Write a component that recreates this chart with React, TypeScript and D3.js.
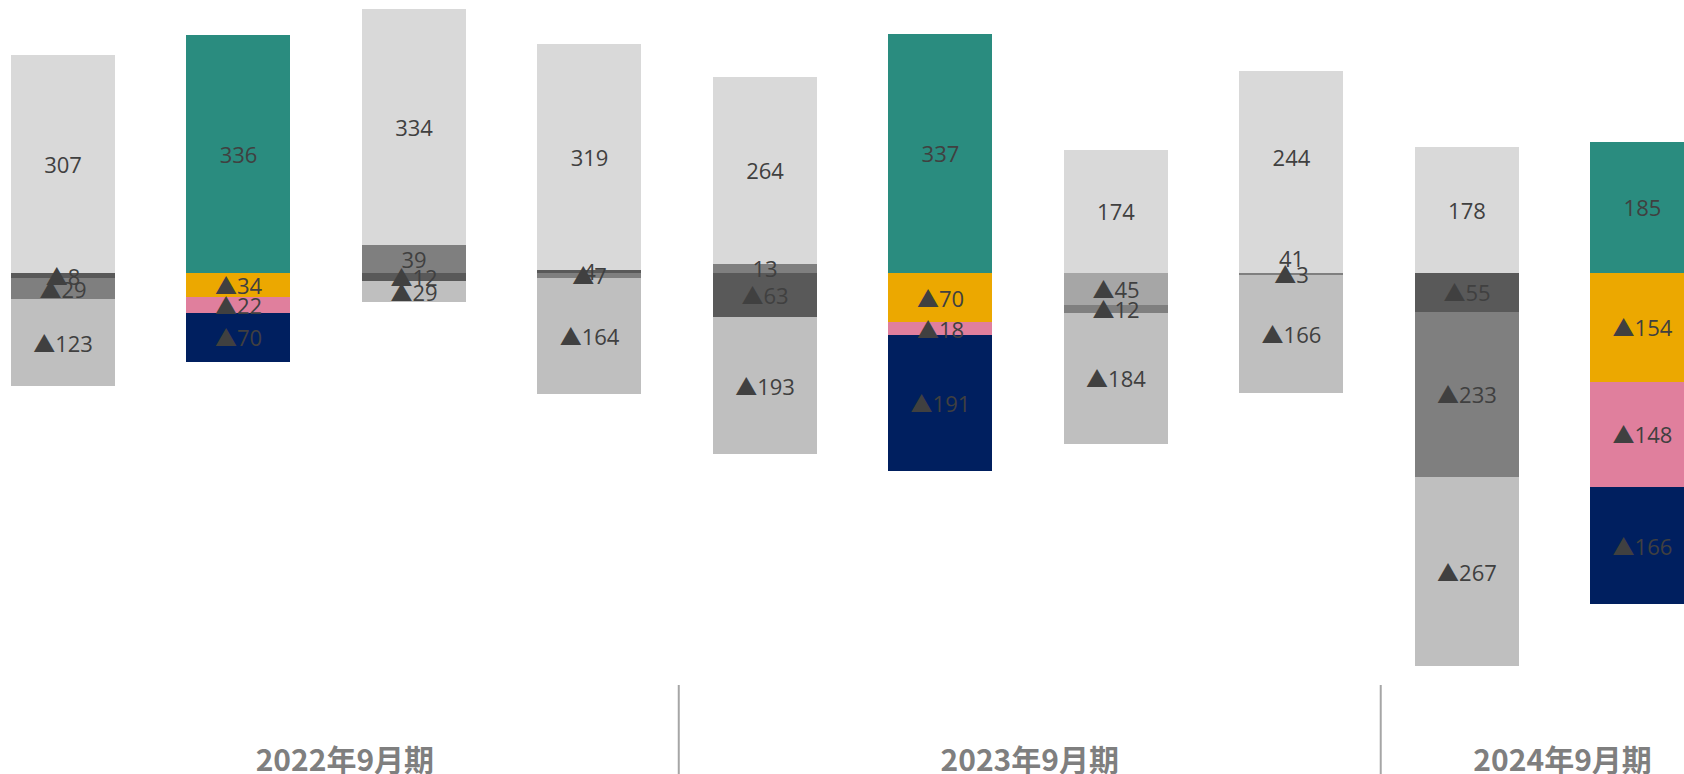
import React, { useEffect } from "react";
import * as d3 from "d3";

const W = 1684;
const H = 774;

const groups = ["2022年9月期", "2023年9月期", "2024年9月期"];
const categories = ["c1", "c2", "c3", "c4", "c5", "c6", "c7", "c8", "c9", "c10"];
const barGroup = [0, 0, 0, 0, 1, 1, 1, 1, 2, 2];

// Positive series (stacked upward from zero, in this order)
const posMid = [0, 0, 39, 0, 13, 0, 0, 0, 0, 0];
const posDark = [0, 0, 0, 4, 0, 0, 0, 0, 0, 0];
const posLight2 = [0, 0, 0, 0, 0, 0, 0, 41, 0, 0];
const posLight = [307, 0, 334, 319, 264, 0, 174, 244, 178, 0];
const posGreen = [0, 336, 0, 0, 0, 337, 0, 0, 0, 185];
// Negative series (stacked downward from zero, in this order)
const negDark = [-8, 0, -12, 0, -63, 0, 0, 0, -55, 0];
const negSilver = [0, 0, 0, 0, 0, 0, -45, 0, 0, 0];
const negMid = [-29, 0, 0, -7, 0, 0, -12, -3, -233, 0];
const negLight = [-123, 0, -29, -164, -193, 0, -184, -166, -267, 0];
const negYellow = [0, -34, 0, 0, 0, -70, 0, 0, 0, -154];
const negPink = [0, -22, 0, 0, 0, -18, 0, 0, 0, -148];
const negNavy = [0, -70, 0, 0, 0, -191, 0, 0, 0, -166];

const seriesDefs = [
  { key: "posMid", values: posMid, color: "#7f7f7f" },
  { key: "posDark", values: posDark, color: "#595959" },
  { key: "posLight2", values: posLight2, color: "#d9d9d9" },
  { key: "posLight", values: posLight, color: "#d9d9d9" },
  { key: "posGreen", values: posGreen, color: "#2a8c7f" },
  { key: "negDark", values: negDark, color: "#595959" },
  { key: "negSilver", values: negSilver, color: "#a6a6a6" },
  { key: "negMid", values: negMid, color: "#7f7f7f" },
  { key: "negLight", values: negLight, color: "#bfbfbf" },
  { key: "negYellow", values: negYellow, color: "#eca800" },
  { key: "negPink", values: negPink, color: "#e07f9d" },
  { key: "negNavy", values: negNavy, color: "#001f5f" },
];

export default function App() {
  useEffect(() => {
    document.body.style.margin = "0";
  }, []);

  const rows = categories.map((c, i) => {
    const r: any = { cat: c };
    seriesDefs.forEach((s) => (r[s.key] = s.values[i]));
    return r;
  });

  const stack = d3
    .stack<any>()
    .keys(seriesDefs.map((s) => s.key))
    .offset(d3.stackOffsetDiverging);
  const stacked = stack(rows);

  const x = d3
    .scaleBand<string>()
    .domain(categories)
    .range([11, 1694.5])
    .paddingInner(0.407)
    .paddingOuter(0);

  const y = d3.scaleLinear().domain([385, -600]).range([0, 698]);

  const bw = x.bandwidth();
  const step = x.step();
  const gap = step - bw;

  // separators between groups
  const seps: number[] = [];
  for (let i = 1; i < categories.length; i++) {
    if (barGroup[i] !== barGroup[i - 1]) {
      seps.push((x(categories[i - 1])! + bw + x(categories[i])!) / 2 + 1.5);
    }
  }
  const groupCenters = groups.map((g, gi) => {
    const idx = categories.map((_, i) => i).filter((i) => barGroup[i] === gi);
    const left = gi === 0 ? x(categories[idx[0]])! : seps[gi - 1];
    const right =
      gi < seps.length
        ? seps[gi]
        : x(categories[idx[idx.length - 1]])! + bw + gap * 0.7;
    return (left + right) / 2;
  });

  const labelFont = "'Open Sans', 'Noto Sans CJK JP', sans-serif";

  return (
    <svg
      width={W}
      height={H}
      style={{ display: "block", position: "absolute", left: 0, top: 0 }}
    >
      <rect width={W} height={H} fill="#ffffff" />
      {stacked.map((layer, si) => (
        <g key={layer.key} shapeRendering="crispEdges">
          {layer.map((d, i) => {
            const v = seriesDefs[si].values[i];
            if (v === 0) return null;
            const y0 = Math.round(y(Math.max(d[0], d[1])));
            const y1 = Math.round(y(Math.min(d[0], d[1])));
            return (
              <rect
                key={i}
                x={Math.round(x(categories[i])!)}
                y={y0}
                width={Math.round(bw)}
                height={Math.max(1, y1 - y0)}
                fill={seriesDefs[si].color}
              />
            );
          })}
        </g>
      ))}
      {stacked.map((layer, si) => (
        <g key={"l" + layer.key}>
          {layer.map((d, i) => {
            const v = seriesDefs[si].values[i];
            if (v === 0) return null;
            const cy = y((d[0] + d[1]) / 2);
            const cx = x(categories[i])! + bw / 2;
            const txt = v < 0 ? "▲" + Math.abs(v) : String(v);
            return (
              <text
                key={i}
                x={cx}
                y={cy}
                textAnchor="middle"
                dominantBaseline="central"
                fontFamily={labelFont}
                fontSize={22}
                fill="#404040"
              >
                {txt}
              </text>
            );
          })}
        </g>
      ))}
      {seps.map((sx, i) => (
        <line
          key={i}
          x1={sx}
          x2={sx}
          y1={685}
          y2={H}
          stroke="#a6a6a6"
          strokeWidth={2}
        />
      ))}
      {groups.map((g, gi) => (
        <text
          key={g}
          x={groupCenters[gi]}
          y={771}
          textAnchor="middle"
          fontFamily="'Noto Sans CJK JP', sans-serif"
          fontWeight="bold"
          fontSize={30}
          fill="#7f7f7f"
        >
          {g}
        </text>
      ))}
    </svg>
  );
}
